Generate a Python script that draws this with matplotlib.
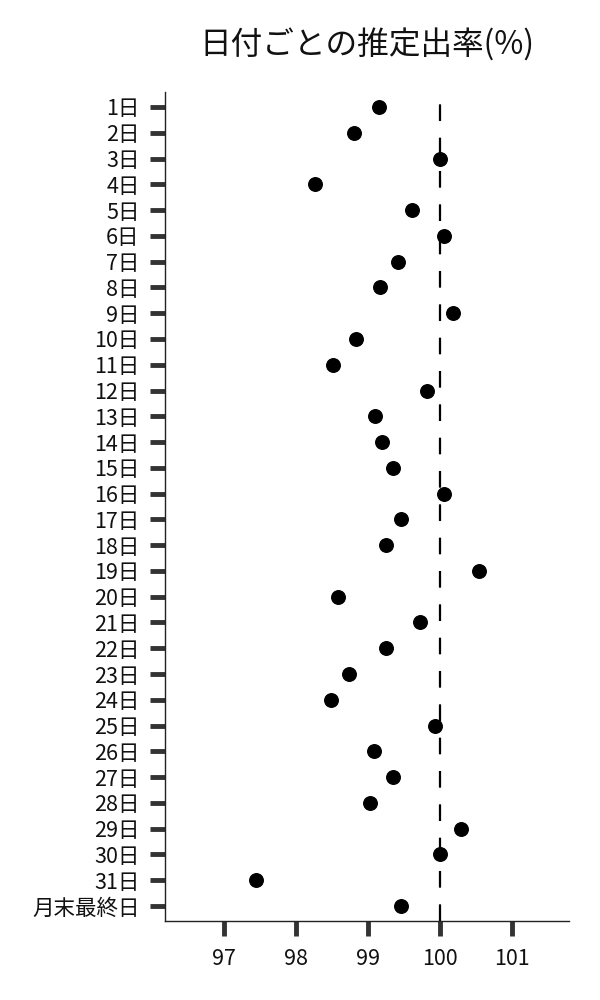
import matplotlib
matplotlib.use("Agg")
import matplotlib.pyplot as plt

plt.rcParams["font.family"] = ["Noto Sans CJK JP", "DejaVu Sans"]

# --------------------- DATA ---------------------

days = [f"{d}日" for d in range(1, 32)] + ["月末最終日"]
rates = [
    99.15, 98.81, 100.00, 98.26, 99.61, 100.05, 99.42, 99.16,
    100.17, 98.83, 98.51, 99.81, 99.09, 99.19, 99.34, 100.05,
    99.46, 99.25, 100.54, 98.59, 99.72, 99.25, 98.73, 98.48,
    99.93, 99.08, 99.34, 99.02, 100.29, 100.00, 97.44, 99.46,
]
ref_rate = 100
x_ticks = [97, 98, 99, 100, 101]

# --------------------- PLOT ---------------------

fig = plt.figure(figsize=(6, 10), dpi=100)
ax = fig.add_axes([0.2743, 0.0793, 0.6747, 0.8284])

ypos = list(range(len(days)))
ax.scatter(rates, ypos, s=95, color="black", zorder=3)
ax.axvline(ref_rate, color="black", linewidth=1.6, linestyle=(0, (7.5, 7.5)), zorder=2)

ax.set_yticks(ypos)
ax.set_yticklabels(days)
ax.set_ylim(len(days) - 1 + 0.57, -0.57)
ax.set_xticks(x_ticks)
ax.set_xlim(96.18, 101.79)

ax.spines["top"].set_visible(False)
ax.spines["right"].set_visible(False)
for s in ["left", "bottom"]:
    ax.spines[s].set_color("#222222")
    ax.spines[s].set_linewidth(1.0)

ax.tick_params(axis="both", length=11, width=3.5, color="#333333",
               labelsize=15.5, labelcolor="#111111")
ax.tick_params(axis="y", pad=7)
ax.tick_params(axis="x", pad=8.5)

ax.set_title("日付ごとの推定出率(%)", fontsize=22.8, pad=28, color="#111111")

plt.savefig("out.png", dpi=100)
